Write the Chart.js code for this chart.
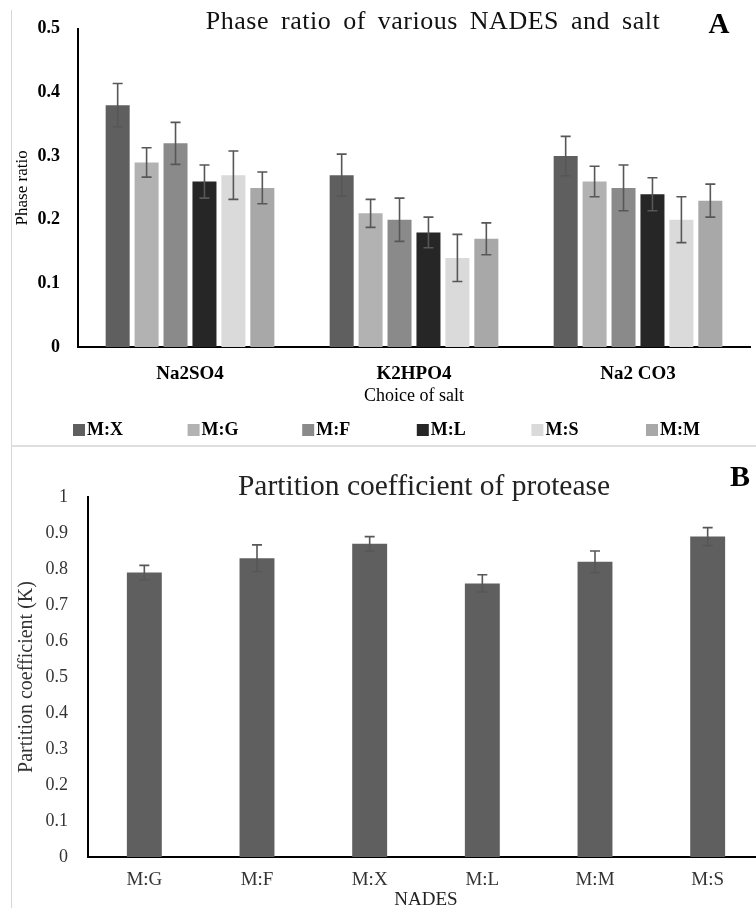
<!DOCTYPE html>
<html>
<head>
<meta charset="utf-8">
<title>Phase ratio and partition coefficient</title>
<script src="https://cdn.jsdelivr.net/npm/chart.js@4.4.0/dist/chart.umd.min.js"></script>
<style>
  html, body { margin: 0; padding: 0; background: #fff; }
  body { width: 756px; height: 908px; overflow: hidden; position: relative; }
  .panel { position: absolute; left: 0; width: 756px; overflow: hidden; }
  #panel-a { top: 0; height: 446px; }
  #panel-b { top: 447px; height: 461px; }
  .frame-left { position: absolute; left: 11px; top: 10px; bottom: 0; border-left: 1px solid #d6d6d6; }
  .frame-mid  { position: absolute; left: 11px; right: 0; top: 445px; border-top: 2px solid #dedede; }
</style>
</head>
<body>
<div class="panel" id="panel-a"><canvas id="phase-chart" width="756" height="446"></canvas></div>
<div class="panel" id="panel-b"><canvas id="partition-chart" width="770" height="461"></canvas></div>
<div class="frame-left"></div>
<div class="frame-mid"></div>

<script>
// ── Data: phase ratio (A) ─────────────────────────────────────────────────────
const salts      = ["Na2SO4", "K2HPO4", "Na2 CO3"];
const nadesNames = ["M:X", "M:G", "M:F", "M:L", "M:S", "M:M"];
const nadesColors = ["#5f5f5f", "#b2b2b2", "#8a8a8a", "#262626", "#dadada", "#a8a8a8"];

const phaseMX = [0.38, 0.27, 0.30];
const phaseMG = [0.29, 0.21, 0.26];
const phaseMF = [0.32, 0.20, 0.25];
const phaseML = [0.26, 0.18, 0.24];
const phaseMS = [0.27, 0.14, 0.20];
const phaseMM = [0.25, 0.17, 0.23];

const errMX = [0.034, 0.033, 0.031];
const errMG = [0.023, 0.022, 0.024];
const errMF = [0.033, 0.034, 0.036];
const errML = [0.026, 0.024, 0.026];
const errMS = [0.038, 0.037, 0.036];
const errMM = [0.025, 0.025, 0.026];

const phaseTicks = [0, 0.1, 0.2, 0.3, 0.4, 0.5];

// ── Data: partition coefficient (B) ───────────────────────────────────────────
const kNades  = ["M:G", "M:F", "M:X", "M:L", "M:M", "M:S"];
const kValues = [0.79, 0.83, 0.87, 0.76, 0.82, 0.89];
const kErrors = [0.02, 0.037, 0.02, 0.024, 0.03, 0.025];
const kTicks  = [0, 0.1, 0.2, 0.3, 0.4, 0.5, 0.6, 0.7, 0.8, 0.9, 1];

const phaseSeries = [phaseMX, phaseMG, phaseMF, phaseML, phaseMS, phaseMM];
const phaseErrors = [errMX, errMG, errMF, errML, errMS, errMM];

const SERIF = "'Liberation Serif', 'Times New Roman', serif";
Chart.defaults.font.family = SERIF;
Chart.defaults.color = "#000";

// ── Plugins ───────────────────────────────────────────────────────────────────
// whiskers at value ± error, placed with the chart's own y scale
const errorBars = {
  id: "errorBars",
  afterDatasetsDraw(chart) {
    const { ctx } = chart;
    const y = chart.scales.y;
    ctx.save();
    ctx.strokeStyle = "#575757";
    ctx.lineWidth = 1.6;
    chart.data.datasets.forEach((ds, i) => {
      const meta = chart.getDatasetMeta(i);
      if (!ds.errors || meta.hidden) return;
      meta.data.forEach((bar, j) => {
        const v = ds.data[j], e = ds.errors[j];
        const hi = y.getPixelForValue(v + e);
        const lo = y.getPixelForValue(v - e);
        ctx.beginPath();
        ctx.moveTo(bar.x, hi);     ctx.lineTo(bar.x, lo);
        ctx.moveTo(bar.x - 5, hi); ctx.lineTo(bar.x + 5, hi);
        ctx.moveTo(bar.x - 5, lo); ctx.lineTo(bar.x + 5, lo);
        ctx.stroke();
      });
    });
    ctx.restore();
  }
};

// free text: chart heading and panel letter
function captions(items) {
  return {
    id: "captions",
    afterDraw(chart) {
      const { ctx } = chart;
      items.forEach(t => {
        ctx.save();
        ctx.font = t.font;
        ctx.fillStyle = t.color || "#000";
        ctx.textAlign = "center";
        ctx.textBaseline = "middle";
        if (t.letterSpacing) ctx.letterSpacing = t.letterSpacing;
        if (t.wordSpacing) ctx.wordSpacing = t.wordSpacing;
        ctx.fillText(t.text, t.x, t.y);
        ctx.restore();
      });
    }
  };
}

// one-row key, evenly spaced under the axis title
const seriesKey = {
  id: "seriesKey",
  afterDraw(chart) {
    const { ctx } = chart;
    const startX = 73, step = 114.6, rowY = 430;
    ctx.save();
    ctx.font = "bold 18px " + SERIF;
    ctx.textBaseline = "middle";
    ctx.textAlign = "left";
    chart.data.datasets.forEach((ds, i) => {
      const x = startX + i * step;
      ctx.fillStyle = ds.backgroundColor;
      ctx.fillRect(x, rowY - 6, 12, 12);
      ctx.fillStyle = "#000";
      ctx.fillText(ds.label, x + 14, rowY);
    });
    ctx.restore();
  }
};

const hideGrid = { display: false, drawTicks: false };
const axisLine = { color: "#000", width: 2 };

// ── A: phase ratio ────────────────────────────────────────────────────────────
new Chart(document.getElementById("phase-chart"), {
  type: "bar",
  data: {
    labels: salts,
    datasets: nadesNames.map((name, i) => ({
      label:           name,
      data:            phaseSeries[i],
      errors:          phaseErrors[i],
      backgroundColor: nadesColors[i],
      borderWidth:     0
    }))
  },
  options: {
    responsive: false,
    animation: false,
    devicePixelRatio: 1,
    layout: { padding: { top: 28, right: 6, bottom: 39, left: 0 } },
    datasets: { bar: { categoryPercentage: 0.775, barPercentage: 0.83 } },
    plugins: { legend: { display: false }, tooltip: { enabled: false } },
    scales: {
      x: {
        grid: hideGrid,
        border: axisLine,
        ticks: { font: { size: 19, weight: "bold" }, color: "#000", padding: 16 },
        title: { display: true, text: "Choice of salt", font: { size: 18 }, color: "#000", padding: 0 },
        afterFit: s => { s.height = 60; }
      },
      y: {
        min: 0,
        max: 0.5,
        afterBuildTicks: s => { s.ticks = phaseTicks.map(value => ({ value })); },
        grid: hideGrid,
        border: axisLine,
        ticks: { font: { size: 18, weight: "bold" }, color: "#000", padding: 18,
                 callback: v => String(v) },
        title: { display: true, text: "Phase ratio", font: { size: 17 }, color: "#000",
                 padding: { top: 12, bottom: 0 } },
        afterFit: s => { s.width = 78; }
      }
    }
  },
  plugins: [
    errorBars,
    seriesKey,
    captions([
      { text: "Phase ratio of various NADES and salt", x: 433, y: 22,
        font: "26px " + SERIF, color: "#111", letterSpacing: "0.5px", wordSpacing: "5px" },
      { text: "A", x: 719, y: 26, font: "bold 29px " + SERIF }
    ])
  ]
});

// ── B: partition coefficient ──────────────────────────────────────────────────
new Chart(document.getElementById("partition-chart"), {
  type: "bar",
  data: {
    labels: kNades,
    datasets: [{
      label:           "Partition coefficient (K)",
      data:            kValues,
      errors:          kErrors,
      backgroundColor: "#5f5f5f",
      borderWidth:     0
    }]
  },
  options: {
    responsive: false,
    animation: false,
    devicePixelRatio: 1,
    layout: { padding: { top: 50, right: 6, bottom: 0, left: 0 } },
    datasets: { bar: { categoryPercentage: 0.62, barPercentage: 0.5 } },
    plugins: { legend: { display: false }, tooltip: { enabled: false } },
    scales: {
      x: {
        grid: hideGrid,
        border: axisLine,
        ticks: { font: { size: 19 }, color: "#333", padding: 12 },
        title: { display: true, text: "NADES", font: { size: 19, lineHeight: 0.8 }, color: "#222", padding: 0 },
        afterFit: s => { s.height = 51; }
      },
      y: {
        min: 0,
        max: 1,
        afterBuildTicks: s => { s.ticks = kTicks.map(value => ({ value })); },
        grid: hideGrid,
        border: axisLine,
        ticks: { font: { size: 18 }, color: "#333", padding: 20, callback: v => String(v) },
        title: { display: true, text: "Partition coefficient (K)", font: { size: 20 }, color: "#333",
                 padding: { top: 15, bottom: 0 } },
        afterFit: s => { s.width = 88; }
      }
    }
  },
  plugins: [
    errorBars,
    captions([
      { text: "Partition coefficient of protease", x: 424, y: 40, font: "29.5px " + SERIF, color: "#222" },
      { text: "B", x: 740, y: 31, font: "bold 30px " + SERIF }
    ])
  ]
});
</script>
</body>
</html>
